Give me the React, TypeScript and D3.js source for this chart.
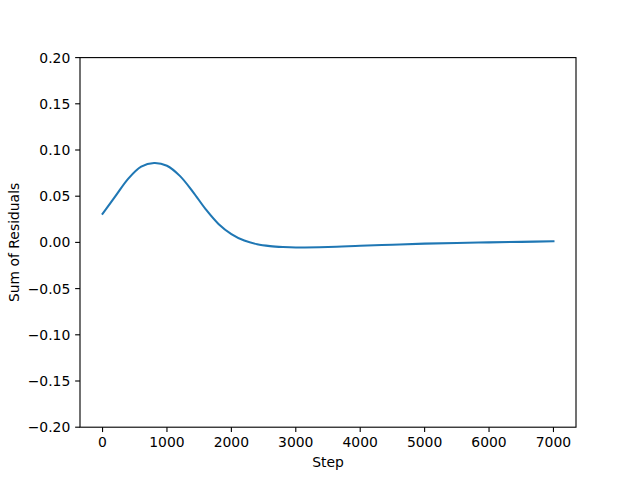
import { useEffect, useRef } from 'react';
import * as d3 from 'd3';

const steps = [0, 200, 400, 600, 800, 1000, 1200, 1400, 1600, 1800, 2000, 2200, 2400, 2600, 2800, 3000, 3500, 4000, 4500, 5000, 5500, 6000, 6500, 7000];
const residuals = [0.031, 0.050, 0.069, 0.082, 0.086, 0.083, 0.072, 0.055, 0.036, 0.020, 0.009, 0.002, -0.002, -0.004, -0.005, -0.0055, -0.005, -0.0037, -0.0025, -0.0013, -0.0006, 0.0, 0.0006, 0.0012];
const xTicks = [0, 1000, 2000, 3000, 4000, 5000, 6000, 7000];
const yTicks = [-0.2, -0.15, -0.1, -0.05, 0, 0.05, 0.1, 0.15, 0.2];

const W = 640;
const H = 480;
const margin = { left: 80, right: 64, top: 57.6, bottom: 52.8 };
const FONT = 'DejaVu Sans, sans-serif';

const App = () => {
    const ref = useRef<SVGSVGElement>(null);

    useEffect(() => {
        const svg = d3.select(ref.current);
        svg.selectAll('*').remove();

        const x = d3.scaleLinear().domain([-350, 7350]).range([margin.left, W - margin.right]);
        const y = d3.scaleLinear().domain([-0.2, 0.2]).range([H - margin.bottom, margin.top]);

        const data = steps.map((s, i) => ({ s, v: residuals[i] }));

        // the curve
        svg.append('path')
            .datum(data)
            .attr('d', d3.line<{ s: number; v: number }>()
                .x(d => x(d.s))
                .y(d => y(d.v))
                .curve(d3.curveCatmullRom))
            .attr('fill', 'none')
            .attr('stroke', '#1f77b4')
            .attr('stroke-width', 2.08)
            .attr('stroke-linecap', 'square');

        // frame
        svg.append('rect')
            .attr('x', margin.left)
            .attr('y', margin.top)
            .attr('width', W - margin.left - margin.right)
            .attr('height', H - margin.top - margin.bottom)
            .attr('fill', 'none')
            .attr('stroke', 'black')
            .attr('stroke-width', 1.11);

        const tickLen = 4.86;
        const bottom = H - margin.bottom;

        // x ticks
        xTicks.forEach(t => {
            svg.append('line')
                .attr('x1', x(t)).attr('x2', x(t))
                .attr('y1', bottom).attr('y2', bottom + tickLen)
                .attr('stroke', 'black').attr('stroke-width', 1.11);
            svg.append('text')
                .attr('x', x(t))
                .attr('y', bottom + tickLen + 4.86)
                .attr('dy', '0.76em')
                .attr('text-anchor', 'middle')
                .attr('font-family', FONT)
                .attr('font-size', 13.9)
                .text(t);
        });

        // y ticks
        yTicks.forEach(t => {
            svg.append('line')
                .attr('x1', margin.left - tickLen).attr('x2', margin.left)
                .attr('y1', y(t)).attr('y2', y(t))
                .attr('stroke', 'black').attr('stroke-width', 1.11);
            svg.append('text')
                .attr('x', margin.left - tickLen - 4.86)
                .attr('y', y(t))
                .attr('dy', '0.36em')
                .attr('text-anchor', 'end')
                .attr('font-family', FONT)
                .attr('font-size', 13.9)
                .text(d3.format('.2f')(t));
        });

        // axis labels
        svg.append('text')
            .attr('x', (margin.left + W - margin.right) / 2)
            .attr('y', 467)
            .attr('text-anchor', 'middle')
            .attr('font-family', FONT)
            .attr('font-size', 13.9)
            .text('Step');

        svg.append('text')
            .attr('transform', `translate(19,${(margin.top + bottom) / 2}) rotate(-90)`)
            .attr('text-anchor', 'middle')
            .attr('font-family', FONT)
            .attr('font-size', 13.9)
            .text('Sum of Residuals');

        return () => { svg.selectAll('*').remove(); };
    }, []);

    return (
        <svg ref={ref} width={W} height={H}
            style={{ position: 'absolute', left: 0, top: 0, background: 'white' }} />
    );
};

export default App;
